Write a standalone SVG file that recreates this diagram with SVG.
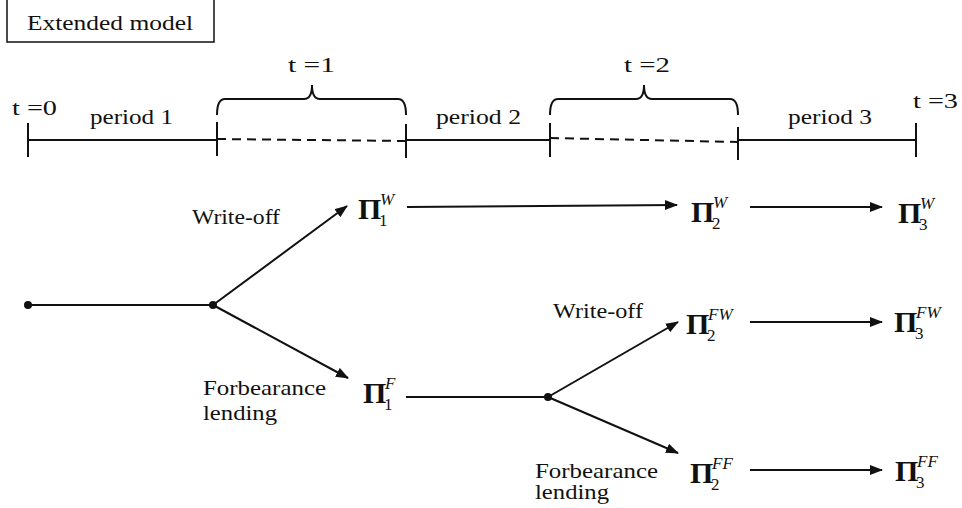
<svg xmlns="http://www.w3.org/2000/svg" width="962" height="508" viewBox="0 0 962 508">
<style>
.t{font-family:"Liberation Serif",serif;font-size:22px;fill:#111}
.pi{font-family:"Liberation Serif",serif;font-size:30px;font-weight:bold;fill:#111}
.sup{font-family:"Liberation Serif",serif;font-size:17px;font-style:italic;fill:#111}
.sub{font-family:"Liberation Serif",serif;font-size:17px;fill:#111}
.ln{stroke:#111;stroke-width:2;fill:none}
.dash{stroke:#111;stroke-width:2;fill:none;stroke-dasharray:9 6}
.arr{stroke:#111;stroke-width:2;fill:none;marker-end:url(#ah)}
</style>
<defs>
<marker id="ah" markerUnits="userSpaceOnUse" markerWidth="14" markerHeight="11" refX="12" refY="5" orient="auto">
<path d="M0,0 L13,5 L0,10 z" fill="#111"/>
</marker>
</defs>
<rect width="962" height="508" fill="#fff"/>
<g id="title">
<rect x="7" y="-2" width="207" height="44" fill="none" stroke="#111" stroke-width="1.5"/>
<text class="t" x="27" y="30" textLength="166" lengthAdjust="spacingAndGlyphs">Extended model</text>
</g>
<g id="timeline">
<path class="ln" d="M28,140 H217 M406,140 H550 M738,140 H916"/>
<path class="dash" d="M217,139 L406,141 M550,138 L738,142"/>
<path class="ln" d="M28,123 V157 M217,122 V156 M406,124 V158 M550,123 V157 M738,127 V160 M916,123 V157"/>
<path class="ln" d="M217,115 Q217,99 225,99 H304 Q312,99 312,85 Q312,99 320,99 H398 Q406,99 406,115"/>
<path class="ln" d="M550,115 Q550,99 558,99 H636 Q644,99 644,85 Q644,99 652,99 H730 Q738,99 738,115"/>
<text class="t" x="12" y="115" textLength="45" lengthAdjust="spacingAndGlyphs">t =0</text>
<text class="t" x="90" y="124" textLength="83" lengthAdjust="spacingAndGlyphs">period 1</text>
<text class="t" x="288" y="72" textLength="47" lengthAdjust="spacingAndGlyphs">t =1</text>
<text class="t" x="436" y="124" textLength="85" lengthAdjust="spacingAndGlyphs">period 2</text>
<text class="t" x="624" y="72" textLength="46" lengthAdjust="spacingAndGlyphs">t =2</text>
<text class="t" x="788" y="124" textLength="84" lengthAdjust="spacingAndGlyphs">period 3</text>
<text class="t" x="913" y="108" textLength="45" lengthAdjust="spacingAndGlyphs">t =3</text>
</g>
<g id="connectors">
<path class="ln" d="M28,305 H213"/>
<path class="arr" d="M213,305 L347,206"/>
<path class="arr" d="M213,305 L348,378"/>
<path class="arr" d="M407,207 L677,205"/>
<path class="arr" d="M750,207 L882,207"/>
<path class="ln" d="M406,397 H548"/>
<path class="arr" d="M548,397 L678,322"/>
<path class="arr" d="M548,397 L678,453"/>
<path class="arr" d="M750,322 L882,322"/>
<path class="arr" d="M750,470 L882,470"/>
<circle cx="28" cy="305" r="4" fill="#111"/>
<circle cx="213" cy="305" r="4" fill="#111"/>
<circle cx="548" cy="397" r="4" fill="#111"/>
</g>
<g id="labels">
<text class="t" x="192" y="224" textLength="88" lengthAdjust="spacingAndGlyphs">Write-off</text>
<text class="t" x="203" y="395" textLength="123" lengthAdjust="spacingAndGlyphs">Forbearance</text>
<text class="t" x="203" y="420" textLength="74" lengthAdjust="spacingAndGlyphs">lending</text>
<text class="t" x="553" y="318" textLength="90" lengthAdjust="spacingAndGlyphs">Write-off</text>
<text class="t" x="535" y="478" textLength="123" lengthAdjust="spacingAndGlyphs">Forbearance</text>
<text class="t" x="535" y="499" textLength="74" lengthAdjust="spacingAndGlyphs">lending</text>
</g>
<g id="n1w"><text class="pi" x="358" y="219">Π</text><text class="sup" x="380" y="205">W</text><text class="sub" x="379" y="226">1</text></g>
<g id="n2w"><text class="pi" x="691" y="222">Π</text><text class="sup" x="713" y="208">W</text><text class="sub" x="712" y="229">2</text></g>
<g id="n3w"><text class="pi" x="898" y="223">Π</text><text class="sup" x="920" y="209">W</text><text class="sub" x="919" y="230">3</text></g>
<g id="n1f"><text class="pi" x="363" y="403">Π</text><text class="sup" x="385" y="389">F</text><text class="sub" x="384" y="410">1</text></g>
<g id="n2fw"><text class="pi" x="686" y="334">Π</text><text class="sup" x="708" y="320">FW</text><text class="sub" x="707" y="341">2</text></g>
<g id="n3fw"><text class="pi" x="894" y="332">Π</text><text class="sup" x="916" y="318">FW</text><text class="sub" x="915" y="339">3</text></g>
<g id="n2ff"><text class="pi" x="690" y="483">Π</text><text class="sup" x="712" y="469">FF</text><text class="sub" x="711" y="490">2</text></g>
<g id="n3ff"><text class="pi" x="895" y="481">Π</text><text class="sup" x="917" y="467">FF</text><text class="sub" x="916" y="488">3</text></g>
</svg>
